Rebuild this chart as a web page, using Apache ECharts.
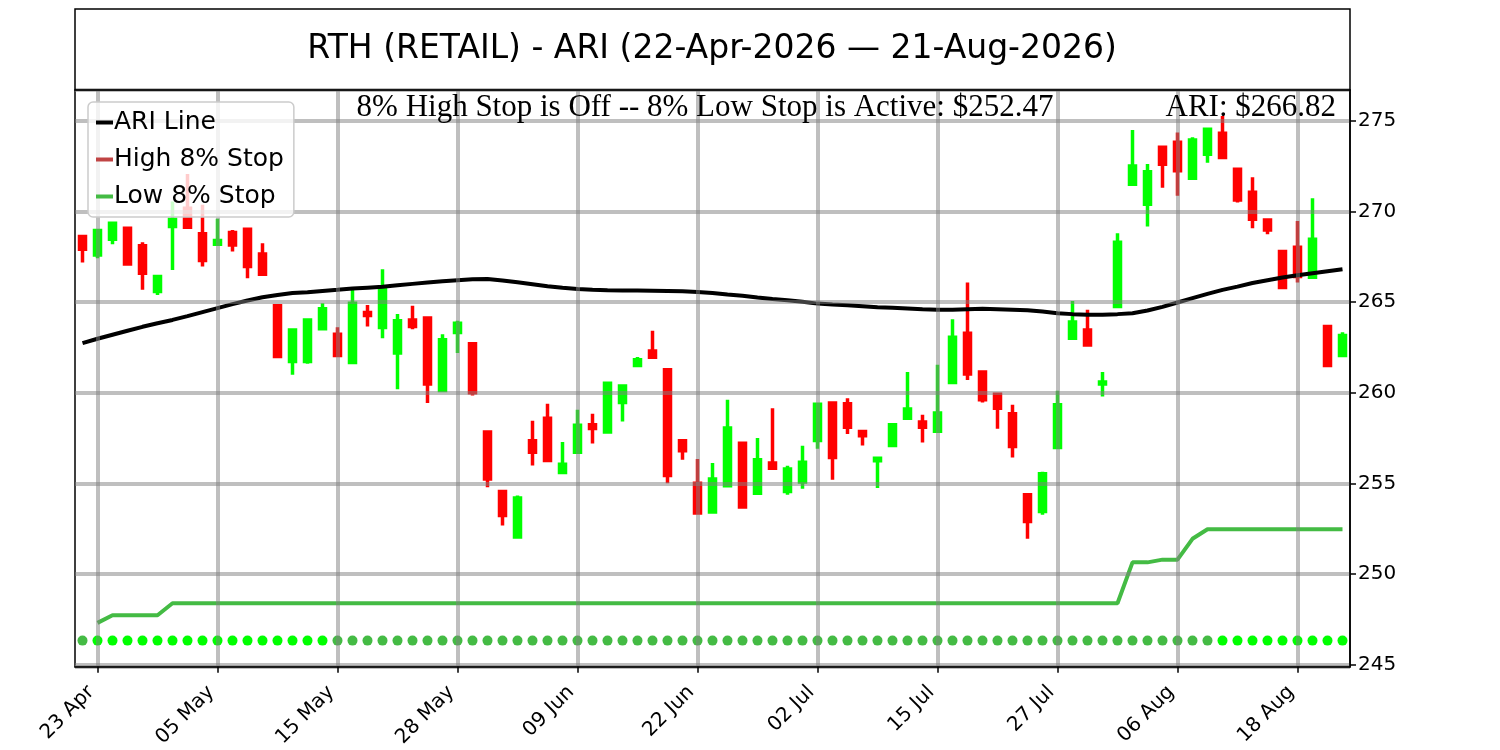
<!DOCTYPE html>
<html>
<head>
<meta charset="utf-8">
<title>RTH (RETAIL) - ARI</title>
<script src="https://cdn.jsdelivr.net/npm/echarts@6.0.0/dist/echarts.min.js"></script>
<style>
    html, body {margin: 0; padding: 0; background: #fff;}
    #chart {width: 1500px; height: 750px;}
</style>
</head>
<body>
<div id="chart"></div>
<script>
//--------------------------------------------------------【data】
var dates = [
    '22 Apr', '23 Apr', '24 Apr', '27 Apr', '28 Apr', '29 Apr', '30 Apr',
    '01 May', '04 May', '05 May', '06 May', '07 May', '08 May', '11 May', '12 May', '13 May', '14 May',
    '15 May', '18 May', '19 May', '20 May', '21 May', '22 May', '26 May', '27 May', '28 May', '29 May',
    '01 Jun', '02 Jun', '03 Jun', '04 Jun', '05 Jun', '08 Jun', '09 Jun', '10 Jun', '11 Jun', '12 Jun',
    '15 Jun', '16 Jun', '17 Jun', '18 Jun', '22 Jun', '23 Jun', '24 Jun', '25 Jun', '26 Jun', '29 Jun', '30 Jun',
    '01 Jul', '02 Jul', '06 Jul', '07 Jul', '08 Jul', '09 Jul', '10 Jul', '13 Jul', '14 Jul', '15 Jul',
    '16 Jul', '17 Jul', '20 Jul', '21 Jul', '22 Jul', '23 Jul', '24 Jul', '27 Jul', '28 Jul', '29 Jul', '30 Jul', '31 Jul',
    '03 Aug', '04 Aug', '05 Aug', '06 Aug', '07 Aug', '10 Aug', '11 Aug', '12 Aug', '13 Aug', '14 Aug',
    '17 Aug', '18 Aug', '19 Aug', '20 Aug', '21 Aug'
];

var opens = [
    268.62, 267.61, 268.47, 269.08, 268.11, 265.59, 269.17, 270.18, 268.77, 268.20,
    268.84, 269.03, 267.66, 264.80, 261.73, 261.73, 263.53, 263.23, 261.67, 264.43,
    263.60, 262.19, 264.02, 264.12, 260.13, 263.33, 262.70, 257.83, 254.55, 252.04,
    257.35, 258.60, 255.60, 256.71, 258.23, 257.83, 259.46, 261.50, 262.31, 261.27,
    257.35, 255.01, 253.42, 254.87, 257.22, 254.46, 256.12, 254.55, 255.07, 257.37,
    259.43, 259.39, 257.86, 256.25, 257.09, 258.60, 258.38, 257.88, 260.57, 263.29,
    261.14, 259.92, 258.84, 254.37, 253.45, 256.98, 263.01, 263.47, 260.48, 264.76,
    271.51, 270.40, 273.55, 273.82, 271.84, 273.16, 274.32, 272.33, 271.07, 269.54,
    267.79, 268.03, 266.38, 263.66, 262.06
];
var closes = [
    267.92, 268.95, 269.36, 267.10, 266.60, 266.41, 269.58, 269.13, 267.30, 268.40,
    268.16, 266.97, 266.54, 262.00, 263.47, 264.02, 264.63, 262.06, 264.94, 264.26,
    265.71, 263.97, 263.66, 260.48, 262.92, 263.84, 260.00, 255.24, 253.23, 254.19,
    256.71, 256.26, 256.06, 258.21, 258.03, 260.53, 260.38, 261.82, 261.96, 255.44,
    256.80, 253.36, 255.24, 258.05, 253.69, 256.30, 255.84, 255.79, 256.17, 259.37,
    256.43, 258.10, 257.63, 256.39, 258.23, 259.10, 258.10, 258.88, 263.07, 261.03,
    259.61, 259.15, 257.04, 252.90, 255.53, 259.34, 263.90, 262.64, 260.59, 268.31,
    272.52, 272.20, 272.61, 272.26, 273.95, 274.54, 272.98, 270.64, 269.58, 268.99,
    265.81, 266.41, 268.47, 261.50, 263.16
];
var lows = [
    267.19, 267.43, 268.20, 267.05, 265.68, 265.40, 266.78, 269.10, 266.97, 268.18,
    267.79, 266.32, 266.50, 261.95, 260.99, 261.60, 263.50, 262.00, 261.60, 263.66,
    263.01, 260.20, 263.51, 259.43, 260.10, 262.19, 259.85, 254.78, 252.68, 252.00,
    255.99, 256.20, 255.58, 256.70, 257.20, 257.80, 258.42, 261.48, 261.92, 255.01,
    256.30, 253.35, 253.40, 254.85, 253.65, 254.45, 255.80, 254.37, 254.70, 256.91,
    255.20, 257.72, 257.09, 254.74, 257.05, 258.58, 257.26, 257.85, 260.55, 260.71,
    259.46, 258.01, 256.43, 251.94, 253.27, 256.95, 262.98, 262.60, 259.80, 264.74,
    271.50, 269.17, 271.32, 270.88, 271.82, 272.70, 272.89, 270.50, 269.08, 268.75,
    265.76, 266.08, 266.36, 261.48, 262.04
];
var highs = [
    268.65, 269.00, 269.40, 269.10, 268.31, 266.46, 270.55, 272.08, 270.37, 269.60,
    268.99, 269.05, 268.25, 264.85, 263.50, 264.10, 264.94, 263.62, 265.81, 264.85,
    266.82, 264.35, 264.80, 264.15, 263.23, 263.97, 262.79, 257.85, 254.58, 254.33,
    258.45, 259.39, 257.28, 259.06, 258.84, 260.55, 260.40, 261.98, 263.42, 261.30,
    257.40, 256.34, 256.12, 259.61, 257.25, 257.50, 259.15, 255.97, 257.07, 259.40,
    259.45, 259.70, 257.88, 256.40, 258.30, 261.14, 258.78, 261.54, 264.06, 266.08,
    261.20, 259.95, 259.34, 254.40, 255.64, 260.11, 265.07, 264.58, 261.14, 268.80,
    274.50, 272.63, 273.58, 274.36, 274.10, 274.56, 275.28, 272.35, 271.89, 269.56,
    267.88, 269.48, 270.73, 263.68, 263.34
];

var ariLine = [
    262.74, 262.98, 263.20, 263.42, 263.64, 263.84, 264.02, 264.23, 264.45, 264.67,
    264.89, 265.09, 265.27, 265.40, 265.50, 265.55, 265.62, 265.68, 265.75, 265.80,
    265.85, 265.93, 266.01, 266.08, 266.15, 266.21, 266.26, 266.28, 266.20, 266.10,
    265.99, 265.88, 265.79, 265.73, 265.69, 265.66, 265.65, 265.64, 265.63, 265.62,
    265.60, 265.56, 265.51, 265.42, 265.35, 265.26, 265.18, 265.11, 265.02, 264.92,
    264.87, 264.83, 264.78, 264.72, 264.69, 264.65, 264.61, 264.58, 264.58, 264.61,
    264.63, 264.61, 264.58, 264.55, 264.48, 264.39, 264.34, 264.30, 264.30, 264.34,
    264.39, 264.54, 264.74, 264.98, 265.22, 265.46, 265.68, 265.86, 266.06, 266.21,
    266.36, 266.49, 266.60, 266.71, 266.82
];

var lowStop = [
    null, 247.30, 247.72, 247.72, 247.72, 247.72, 248.38, 248.38, 248.38, 248.38,
    248.38, 248.38, 248.38, 248.38, 248.38, 248.38, 248.38, 248.38, 248.38, 248.38,
    248.38, 248.38, 248.38, 248.38, 248.38, 248.38, 248.38, 248.38, 248.38, 248.38,
    248.38, 248.38, 248.38, 248.38, 248.38, 248.38, 248.38, 248.38, 248.38, 248.38,
    248.38, 248.38, 248.38, 248.38, 248.38, 248.38, 248.38, 248.38, 248.38, 248.38,
    248.38, 248.38, 248.38, 248.38, 248.38, 248.38, 248.38, 248.38, 248.38, 248.38,
    248.38, 248.38, 248.38, 248.38, 248.38, 248.38, 248.38, 248.38, 248.38, 248.38,
    250.64, 250.64, 250.79, 250.79, 251.94, 252.47, 252.47, 252.47, 252.47, 252.47,
    252.47, 252.47, 252.47, 252.47, 252.47
];

// high stop is off: no values
var highStop = dates.map(function () { return null; });

// row of markers under the chart, 1 = bright
var stopDotLevel = 246.32;
var stopDotActive = [
    0, 1, 1, 1, 1, 1, 1, 1, 1, 1,
    1, 1, 1, 1, 1, 1, 1, 0, 0, 0,
    0, 0, 0, 0, 0, 0, 0, 0, 0, 0,
    0, 0, 0, 0, 0, 0, 0, 0, 0, 0,
    0, 0, 0, 0, 0, 0, 0, 0, 0, 0,
    0, 0, 0, 0, 0, 0, 0, 0, 0, 0,
    0, 0, 0, 0, 0, 0, 0, 0, 0, 0,
    0, 0, 0, 0, 0, 0, 1, 1, 1, 1,
    1, 1, 1, 1, 1
];

var titleText = 'RTH (RETAIL) - ARI (22-Apr-2026 \u2014 21-Aug-2026)';
var stopText = '8% High Stop is Off -- 8% Low Stop is Active: $252.47';
var ariText = 'ARI: $266.82';

//--------------------------------------------------------【chart】
var font = 'DejaVu Sans';
var gridColor = 'rgba(128,128,128,0.5)';
var showTick = function (index) {
    return (index - 1) % 8 === 0;
};

var candles = dates.map(function (d, i) {
    return [opens[i], closes[i], lows[i], highs[i]];
});
var dots = dates.map(function (d, i) {
    return {
        value: [i, stopDotLevel],
        itemStyle: {color: stopDotActive[i] ? '#00ff00' : '#44bb44', opacity: 1}
    };
});

var chart = echarts.init(document.getElementById('chart'));
chart.setOption({
    animation: false,
    backgroundColor: '#ffffff',
    textStyle: {fontFamily: font},
    grid: {
        left: 75, right: 150, top: 90, bottom: 83,
        show: true, borderColor: '#000', borderWidth: 1.5
    },
    legend: {
        data: ['ARI Line', 'High 8% Stop', 'Low 8% Stop'],
        orient: 'vertical',
        left: 88, top: 102,
        z: 10,
        padding: [8, 10, 8, 8],
        itemGap: 12,
        itemWidth: 17, itemHeight: 4,
        icon: 'rect',
        backgroundColor: 'rgba(255,255,255,0.8)',
        borderColor: '#cccccc', borderWidth: 1.5, borderRadius: 5,
        textStyle: {fontFamily: font, fontSize: 25, color: '#000', lineHeight: 25, padding: [0, 0, 0, -4]}
    },
    xAxis: {
        type: 'category',
        data: dates,
        boundaryGap: true,
        z: 4,
        axisLine: {show: true, onZero: false, lineStyle: {color: '#000', width: 1.5}},
        axisTick: {show: true, alignWithLabel: true, interval: showTick, length: 6, lineStyle: {color: '#000', width: 1.5}},
        axisLabel: {
            interval: showTick, rotate: 45, fontFamily: font, fontSize: 20, color: '#000',
            margin: 16, padding: [0, 9, 0, 0]
        },
        splitLine: {show: true, alignWithLabel: true, interval: showTick, lineStyle: {color: gridColor, width: 4}}
    },
    yAxis: {
        type: 'value',
        position: 'right',
        min: 244.88, max: 276.71,
        splitNumber: 6,
        z: 4,
        axisLine: {show: true, lineStyle: {color: '#000', width: 1.5}},
        axisTick: {show: true, length: 6, lineStyle: {color: '#000', width: 1.5}},
        axisLabel: {
            fontFamily: font, fontSize: 20, color: '#000', margin: 8,
            showMinLabel: false, showMaxLabel: false,
            formatter: function (v) {
                return Math.abs(v - Math.round(v)) < 1e-6 && Math.round(v) % 5 === 0 ? String(Math.round(v)) : '';
            }
        },
        splitLine: {show: true, lineStyle: {color: gridColor, width: 4}}
    },
    series: [
        {
            name: 'RTH',
            type: 'candlestick',
            data: candles,
            barWidth: 7,
            z: 2,
            itemStyle: {
                color: '#00ff00', color0: '#ff0000',
                borderColor: '#00ff00', borderColor0: '#ff0000',
                borderWidth: 3.5
            }
        },
        {
            name: 'Low 8% Stop',
            type: 'line',
            data: lowStop,
            z: 3,
            showSymbol: false,
            color: '#44bb44',
            lineStyle: {color: '#44bb44', width: 4}
        },
        {
            name: 'High 8% Stop',
            type: 'line',
            data: highStop,
            z: 3,
            showSymbol: false,
            color: '#c04444',
            lineStyle: {color: '#c04444', width: 4}
        },
        {
            name: 'ARI Line',
            type: 'line',
            data: ariLine,
            z: 3,
            showSymbol: false,
            color: '#000000',
            lineStyle: {color: '#000000', width: 4}
        },
        {
            name: 'stop dots',
            type: 'scatter',
            data: dots,
            z: 3,
            symbolSize: 10,
            itemStyle: {opacity: 1}
        }
    ],
    graphic: [
        {
            type: 'rect',
            shape: {x: 75, y: 9, width: 1275, height: 81},
            style: {fill: 'none', stroke: '#000', lineWidth: 1.5},
            z: 20
        },
        {
            type: 'text',
            x: 712, y: 49,
            style: {
                text: titleText, fill: '#000',
                font: '33px "DejaVu Sans"',
                align: 'center', verticalAlign: 'middle',
                textAlign: 'center', textVerticalAlign: 'middle'
            },
            z: 20
        },
        {
            type: 'text',
            x: 705, y: 108,
            style: {
                text: stopText, fill: '#000',
                font: '31px "Liberation Serif"',
                align: 'center', verticalAlign: 'middle',
                textAlign: 'center', textVerticalAlign: 'middle'
            },
            z: 20
        },
        {
            type: 'text',
            x: 1336, y: 108,
            style: {
                text: ariText, fill: '#000',
                font: '31px "Liberation Serif"',
                align: 'right', verticalAlign: 'middle',
                textAlign: 'right', textVerticalAlign: 'middle'
            },
            z: 20
        }
    ]
});
</script>
</body>
</html>
